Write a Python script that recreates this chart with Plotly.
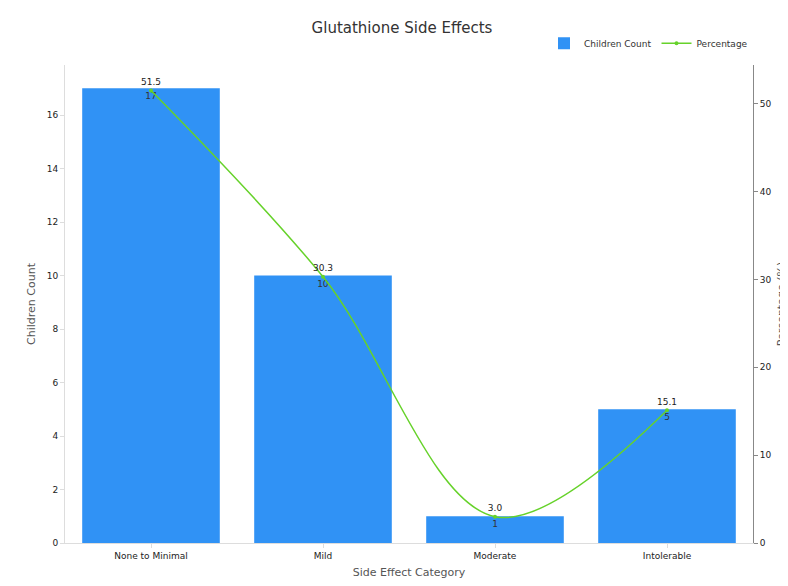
import plotly.graph_objects as go

categories = ['None to Minimal', 'Mild', 'Moderate', 'Intolerable']
children_count = [17, 10, 1, 5]
percentage = [51.5, 30.3, 3.0, 15.1]

fig = go.Figure()
fig.add_trace(go.Bar(x=categories, y=children_count, name='Children Count',
                     marker=dict(color='#3092f5', line=dict(color='#3092f5', width=0)),
                     text=[str(v) for v in children_count], textposition='inside',
                     insidetextanchor='end', textfont=dict(color='#333', size=9)))
fig.add_trace(go.Scatter(x=categories, y=percentage, name='Percentage', yaxis='y2',
                         mode='lines+markers+text', line=dict(color='#66d22a', width=1.5, shape='spline'),
                         marker=dict(size=4, color='#66d22a'),
                         text=[f'{v:.1f}' for v in percentage], textposition='top center',
                         textfont=dict(color='#222', size=9)))

fig.update_layout(
    width=788, height=586,
    font=dict(family='DejaVu Sans', size=10, color='#555'),
    title=dict(text='Glutathione Side Effects', x=0.5, xanchor='center', y=0.975, font=dict(size=15, color='#333')),
    plot_bgcolor='white', paper_bgcolor='white',
    margin=dict(l=57, r=43, t=57, b=51, autoexpand=False),
    bargap=0.2,
    showlegend=True,
    legend=dict(orientation='h', x=1, xanchor='right', y=1.015, yanchor='bottom', font=dict(size=9, color='#333')),
    xaxis=dict(title=dict(text='Side Effect Category', font=dict(size=11), standoff=8), showline=True, linecolor='#ddd',
               ticks='outside', tickcolor='#ddd', ticklen=4, tickfont=dict(color='#222', size=9), automargin=False),
    yaxis=dict(title=dict(text='Children Count', font=dict(size=11), standoff=8), range=[0, 17.87], dtick=2,
               showgrid=False, showline=True, linecolor='#ddd', ticks='outside', tickcolor='#ddd',
               ticklen=4, tickfont=dict(color='#222', size=9), zeroline=False, automargin=False),
    yaxis2=dict(title=dict(text='Percentage (%)', font=dict(size=11), standoff=6), overlaying='y', side='right',
                range=[0, 54.4], dtick=10, showgrid=False, showline=True, linecolor='#888',
                ticks='outside', tickcolor='#888', ticklen=4, tickfont=dict(color='#222', size=9),
                zeroline=False, automargin=False),
)

fig.write_html('out.html')
